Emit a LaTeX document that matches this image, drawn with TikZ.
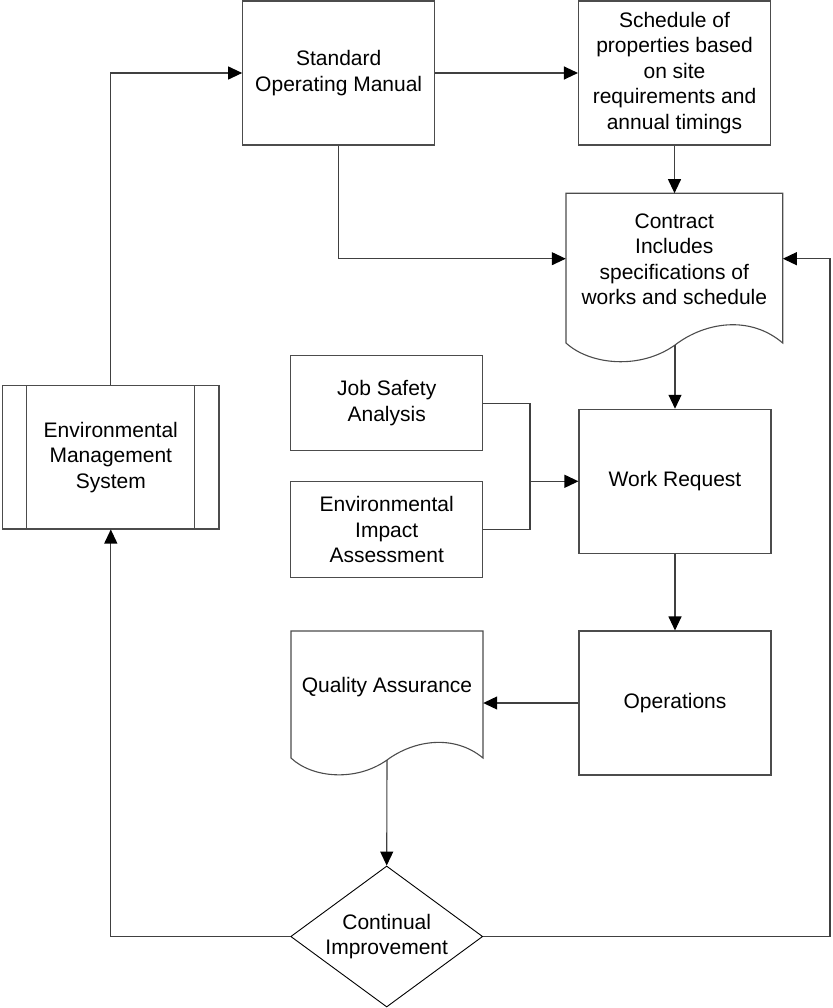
\documentclass[tikz,border=0pt]{standalone}
\usepackage{fontspec}
\setmainfont{Liberation Sans}
\usetikzlibrary{arrows.meta,shapes.geometric,calc}
\begin{document}
\begin{tikzpicture}[x=1pt,y=-1pt,
  every node/.style={font=\fontsize{21}{25.5}\selectfont, align=center, inner sep=0pt},
  box/.style={draw=black!70, line width=1.1pt, fill=white, minimum width=192pt, minimum height=144pt},
  conn/.style={draw=black!75, line width=1.1pt},
  arr/.style={conn, -{Triangle[length=14pt,width=13pt,color=black]}},
  docline/.style={draw=black!70, line width=1.1pt}
]
\useasboundingbox (0,0) rectangle (832,1008);

% boxes
\node[box] (som) at (338.7,73) {Standard\\Operating Manual};
\node[box] (sch) at (674.5,73) {Schedule of\\properties based\\on site\\requirements and\\annual timings};
\node[box, minimum height=95pt] (jsa) at (386.7,403.2) {Job Safety\\Analysis};
\node[box, minimum height=96pt] (eia) at (386.7,529.5) {Environmental\\Impact\\Assessment};
\node[box] (wr) at (675,481.3) {Work Request};
\node[box] (ops) at (675,703) {Operations};
\node[box, minimum width=216.3pt, minimum height=143.3pt] (ems) at (110.8,457.3) {Environmental\\Management\\System};
\draw[docline] ([xshift=24pt]ems.north west) -- ([xshift=24pt]ems.south west);
\draw[docline] ([xshift=-24.7pt]ems.north east) -- ([xshift=-24.7pt]ems.south east);

% Contract document shape
\node[minimum width=216.7pt, minimum height=149.7pt] (con) at (674.3,268.2) {};
\draw[docline] (566,343) -- (566,193.3) -- (782.7,193.3) -- (782.7,343)
  .. controls (750,315) and (705,322) .. (675,345)
  .. controls (640,370) and (590,365) .. (566,343) -- cycle;
\node (contxt) at (674.3,259.5) {Contract\\Includes\\specifications of\\works and schedule};
\coordinate (conbot) at (675,345);

% Quality Assurance document shape
\node[minimum width=192pt, minimum height=127pt] (qa) at (387,694.5) {};
\draw[docline] (291,758) -- (291,631) -- (483,631) -- (483,758)
  .. controls (454,734) and (414,740) .. (387,760)
  .. controls (356,782) and (312,778) .. (291,758) -- cycle;
\node (qatxt) at (387,687) {Quality Assurance};
\coordinate (qabot) at (387,760);

% diamond
\node[diamond, draw=black, line width=0.9pt, fill=white, minimum width=192pt, minimum height=141pt, aspect=1.36] (ci) at (386.7,936.5) {Continual\\Improvement};

% connectors
\draw[arr] (ems.north) |- (som.west);
\draw[arr] (som.east) -- (sch.west);
\draw[arr] (sch.south) -- (sch.south |- con.north);
\draw[arr] (som.south) |- ([yshift=9.5pt]con.west);
\draw[arr] (ci.east) -- (830,936.5) |- ([yshift=9.5pt]con.east);
\draw[arr] (conbot) -- (conbot |- wr.north);
\coordinate (j) at (530,481.3);
\draw[conn] (jsa.east) -| (j);
\draw[conn] (eia.east) -| (j);
\draw[arr] (j) -- (wr.west);
\draw[arr] (wr.south) -- (ops.north);
\draw[arr] (ops.west) -- (ops.west -| qa.east);
\draw[arr] (qabot) -- (ci.north);
\draw[arr] (ci.west) -| (ems.south);
\end{tikzpicture}
\end{document}
